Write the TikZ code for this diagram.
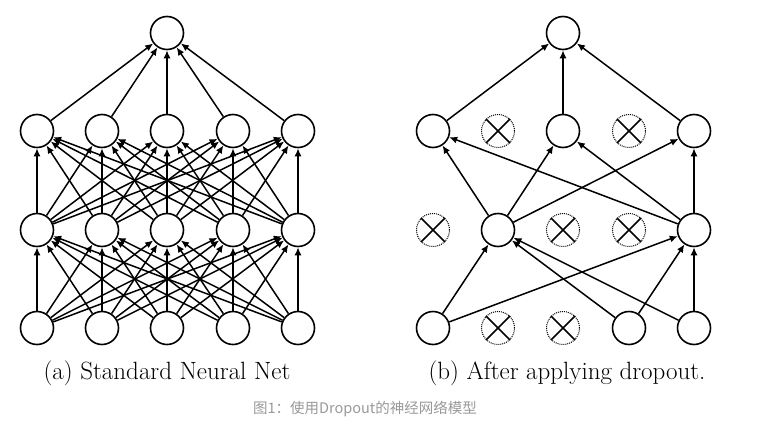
\documentclass[tikz,border=0pt]{standalone}
\usepackage{fontspec}
\newfontfamily\cjk{Noto Sans CJK SC}
\usetikzlibrary{arrows.meta}

\begin{document}
\begin{tikzpicture}[x=1pt, y=-1pt,
	neuron/.style={circle, draw, line width=1.6pt, minimum size=33pt, inner sep=0pt},
	dropped/.style={circle, draw, densely dotted, line width=1pt, minimum size=33pt, inner sep=0pt},
	conn/.style={-{Latex[length=8pt,width=7pt]}, line width=1.5pt},
	caption/.style={font=\fontsize{25}{30}\selectfont}]
	\useasboundingbox (0,0) rectangle (759,431);
	
	% Draw standard net
	\foreach \i/\x in {1/37,2/102,3/167,4/233,5/298} {
		\node[neuron] (ain\i) at (\x,328) {};
		\node[neuron] (ahid\i) at (\x,230) {};
		\node[neuron] (atop\i) at (\x,131) {};
	}
	\node[neuron] (aout) at (167,33) {};
	\foreach \i in {1,...,5} {
		\foreach \j in {1,...,5} {
			\draw[conn] (ain\i) -- (ahid\j);
			\draw[conn] (ahid\i) -- (atop\j);
		}
		\draw[conn] (atop\i) -- (aout);
	}
	
	% Draw net after dropout
	\foreach \i/\x/\s in {1/433/neuron,2/498/dropped,3/563/dropped,4/629/neuron,5/694/neuron}
		\node[\s] (bin\i) at (\x,328) {};
	\foreach \i/\x/\s in {1/433/dropped,2/498/neuron,3/563/dropped,4/629/dropped,5/694/neuron}
		\node[\s] (bhid\i) at (\x,230) {};
	\foreach \i/\x/\s in {1/433/neuron,2/498/dropped,3/563/neuron,4/629/dropped,5/694/neuron}
		\node[\s] (btop\i) at (\x,131) {};
	\node[neuron] (bout) at (563,33) {};
	
	% Draw crosses on dropped units
	\foreach \n in {bin2,bin3,bhid1,bhid3,bhid4,btop2,btop4}
		\draw[line width=1.6pt] (\n.north west) -- (\n.south east) (\n.north east) -- (\n.south west);
	
	% Draw remaining connections
	\foreach \i in {1,4,5} {
		\draw[conn] (bin\i) -- (bhid2);
		\draw[conn] (bin\i) -- (bhid5);
	}
	\foreach \i in {2,5} {
		\foreach \j in {1,3,5}
			\draw[conn] (bhid\i) -- (btop\j);
	}
	\foreach \j in {1,3,5}
		\draw[conn] (btop\j) -- (bout);
	
	% Draw text
	\node[caption] (alabel) at (167,373) {(a) Standard Neural Net};
	\node[caption] (blabel) at (567,373) {(b) After applying dropout.};
	\node[text=black!40, font=\cjk\fontsize{14.5}{17}\selectfont] (fig) at (365,409) {图1：使用Dropout的神经网络模型};
\end{tikzpicture}
\end{document}
